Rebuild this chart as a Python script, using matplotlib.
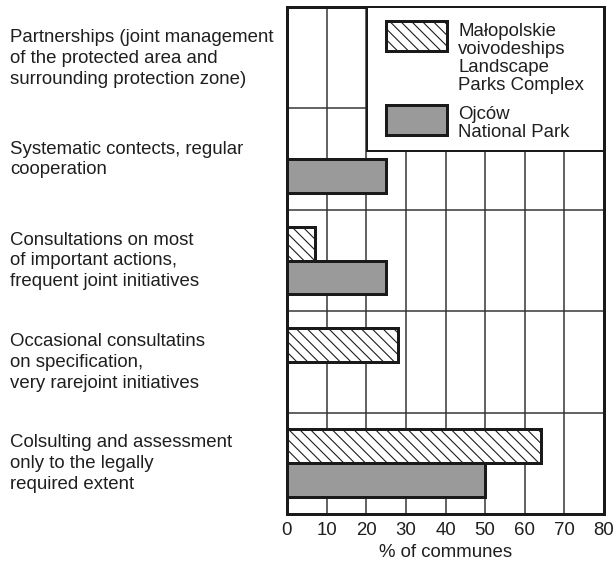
import matplotlib
matplotlib.use('Agg')
import matplotlib.pyplot as plt
import matplotlib.transforms as mtrans
from matplotlib.patches import Rectangle
import numpy as np

categories = [
    "Partnerships (joint management\nof the protected area and\nsurrounding protection zone)",
    "Systematic contects, regular\ncooperation",
    "Consultations on most\nof important actions,\nfrequent joint initiatives",
    "Occasional consultatins\non specification,\nvery rarejoint initiatives",
    "Colsulting and assessment\nonly to the legally\nrequired extent",
]
landscape_parks = [0, 0, 7, 28, 64]
ojcow_np = [0, 25, 25, 0, 50]
x_ticks = [0, 10, 20, 30, 40, 50, 60, 70, 80]
legend_labels = ["Małopolskie\nvoivodeships\nLandscape\nParks Complex", "Ojców\nNational Park"]
x_label = "% of communes"

DPI = 130
plt.rcParams['font.family'] = ['Liberation Sans', 'DejaVu Sans']
plt.rcParams['hatch.linewidth'] = 0.6
plt.rcParams['hatch.color'] = '#1a1a1a'
FS = 10.3
TXT = '#1f1f1f'
EDGE = '#1a1a1a'
GRAY = '#9a9a9a'
px = 72.0 / DPI  # points per pixel

fig = plt.figure(figsize=(615 / DPI, 561 / DPI), dpi=DPI)
ax = fig.add_axes([287 / 615, 1 - 514 / 561, 317 / 615, 507 / 561])

y = np.arange(len(categories))
h = 0.335
lp = np.array(landscape_parks, dtype=float)
oj = np.array(ojcow_np, dtype=float)
m1 = lp > 0
m2 = oj > 0
ax.barh(y[m1] - h / 2, lp[m1], height=h, color='white', edgecolor=EDGE,
        linewidth=3 * px, hatch='\\\\\\\\', zorder=3)
ax.barh(y[m2] + h / 2, oj[m2], height=h, color=GRAY, edgecolor=EDGE,
        linewidth=3 * px, zorder=3)

ax.set_xlim(0, 80)
ax.set_ylim(len(categories) - 0.5, -0.5)
ax.set_xticks(x_ticks)
ax.set_xticklabels([str(v) for v in x_ticks], fontsize=FS, color=TXT)
ax.set_yticks(y)
ax.set_yticklabels(categories, fontsize=FS, color=TXT, ha='left', linespacing=1.3)
ax.tick_params(axis='y', length=0, pad=277 * px)
ax.tick_params(axis='x', length=0, pad=8 * px)
ax.set_xlabel(x_label, fontsize=FS, color=TXT, labelpad=3)

shift = mtrans.ScaledTranslation(0, 3.5 / DPI, fig.dpi_scale_trans)
for lab in ax.get_yticklabels():
    lab.set_transform(lab.get_transform() + shift)

for v in x_ticks[1:-1]:
    ax.axvline(v, color='#333333', lw=1.5 * px, zorder=1)
for b in np.arange(0.5, len(categories) - 0.5, 1):
    ax.axhline(b, color='#333333', lw=1.5 * px, zorder=1)
for s in ax.spines.values():
    s.set_linewidth(3 * px)
    s.set_color(EDGE)
    s.set_zorder(5)

# legend box (manual, handles aligned to the top of the labels)
W, H = 317.0, 507.0
def fx(p):
    return (p - 287) / W
def fy(p):
    return 1 - (p - 7) / H
ax.add_patch(Rectangle((fx(367), fy(151)), 1 - fx(367), 1 - fy(151), transform=ax.transAxes,
                       facecolor='white', edgecolor=EDGE, lw=2 * px, zorder=6))
ax.add_patch(Rectangle((fx(386), fy(51)), fx(447) - fx(386), fy(21) - fy(51), transform=ax.transAxes,
                       facecolor='white', edgecolor=EDGE, lw=3 * px, hatch='\\\\\\\\', zorder=7))
ax.add_patch(Rectangle((fx(386), fy(135)), fx(447) - fx(386), fy(105) - fy(135), transform=ax.transAxes,
                       facecolor=GRAY, edgecolor=EDGE, lw=3 * px, zorder=7))
ax.text(fx(458), fy(58.5), legend_labels[0], transform=ax.transAxes, fontsize=FS, color=TXT,
        va='center', ha='left', linespacing=1.07, zorder=8)
ax.text(fx(458), fy(123.5), legend_labels[1], transform=ax.transAxes, fontsize=FS, color=TXT,
        va='center', ha='left', linespacing=1.07, zorder=8)

fig.savefig('out.png', dpi=DPI)
